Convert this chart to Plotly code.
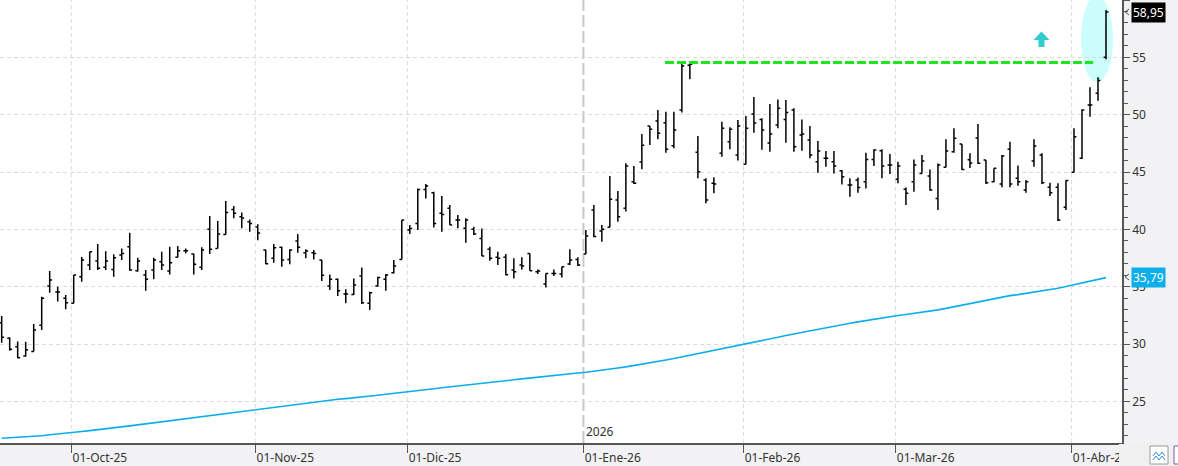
import pandas as pd
import plotly.graph_objects as go

# ---------------- data ----------------
holidays = ["2025-11-27", "2025-12-25", "2026-01-01", "2026-01-19", "2026-02-16", "2026-04-03"]
days = pd.bdate_range("2025-09-18", "2026-04-08")
days = days[~days.isin(pd.to_datetime(holidays))]
dates = [d.strftime("%Y-%m-%d") for d in days]

open_ = [31.86, 30.50, 29.77, 28.95, 29.35, 31.63, 35.06, 34.54, 34.00, 33.55,
         35.87, 36.89, 37.24, 36.69, 36.51, 37.76, 38.49, 36.40, 36.02, 36.45,
         37.18, 36.37, 37.56, 38.14, 37.85, 36.69, 40.00, 38.34, 39.56, 41.74,
         41.10, 40.67, 40.20, 38.20, 37.47, 38.43, 37.38, 38.98, 37.96, 37.96,
         37.32, 35.06, 35.64, 34.36, 34.33, 35.93, 33.55, 35.06, 35.64, 36.22,
         37.38, 39.94, 40.52, 43.48, 43.19, 41.40, 41.83, 40.81, 40.09, 40.00,
         39.21, 38.26, 37.56, 37.56, 36.45, 36.89, 37.90, 36.31, 35.23, 36.16,
         36.10, 36.98, 37.38, 37.85, 41.69, 39.86, 40.18, 42.56, 41.84, 44.16,
         45.87, 49.01, 49.45, 49.30, 47.30, 50.41, 54.30, 46.72, 44.31, 44.02,
         46.63, 47.65, 46.49, 45.67, 50.06, 49.59, 47.53, 49.10, 49.59, 50.40,
         48.23, 47.79, 45.90, 46.19, 45.90, 45.12, 43.86, 44.30, 44.16, 46.10,
         46.86, 45.61, 44.36, 43.49, 44.16, 44.88, 44.65, 42.70, 45.41, 46.77,
         47.44, 46.08, 47.97, 46.05, 44.16, 43.96, 46.98, 44.45, 43.43, 45.96,
         46.49, 43.67, 43.67, 41.92, 44.98, 46.20, 50.85, 51.86, 55.00]
high = [32.45, 30.59, 30.21, 30.20, 31.75, 34.13, 36.37, 35.00, 34.28, 36.02,
        37.60, 38.05, 38.72, 38.10, 37.82, 38.34, 39.71, 37.53, 36.46, 37.53,
        38.05, 38.49, 38.55, 38.34, 37.90, 38.43, 41.16, 40.73, 42.47, 42.03,
        41.48, 40.87, 40.45, 38.23, 38.72, 38.49, 38.26, 39.59, 38.26, 38.20,
        37.32, 36.07, 35.72, 34.77, 35.72, 36.68, 34.56, 35.87, 36.10, 37.32,
        40.81, 40.38, 43.57, 43.95, 43.28, 42.90, 42.12, 41.25, 40.96, 40.23,
        40.08, 38.49, 38.05, 37.85, 37.47, 37.56, 37.90, 36.51, 36.16, 36.51,
        36.74, 38.26, 37.56, 39.94, 42.13, 40.38, 44.65, 43.35, 45.76, 45.53,
        48.32, 49.01, 50.41, 50.26, 50.26, 54.45, 54.50, 48.14, 44.45, 44.54,
        49.39, 48.90, 49.54, 49.88, 51.54, 49.68, 50.93, 51.33, 51.28, 50.55,
        49.59, 49.01, 47.70, 46.83, 46.83, 45.17, 44.45, 44.53, 46.68, 46.98,
        46.98, 46.57, 45.90, 43.66, 46.10, 46.48, 45.23, 45.75, 47.85, 48.81,
        47.44, 46.63, 49.19, 46.05, 45.32, 46.49, 47.65, 45.56, 44.31, 47.85,
        46.63, 44.07, 44.02, 44.31, 48.81, 50.47, 52.39, 53.26, 59.13]
low = [30.12, 29.42, 28.76, 28.90, 29.34, 31.22, 34.48, 33.70, 33.03, 33.55,
       35.44, 36.45, 36.45, 36.45, 35.87, 37.33, 36.40, 36.30, 34.65, 35.64,
       36.45, 36.07, 37.56, 37.90, 36.07, 36.45, 37.85, 38.34, 39.56, 40.96,
       40.09, 39.80, 39.04, 36.96, 37.09, 36.74, 36.95, 37.96, 37.47, 37.38,
       35.49, 34.71, 34.18, 33.55, 34.27, 33.49, 32.96, 35.00, 34.65, 36.16,
       37.38, 39.59, 39.94, 42.70, 40.17, 39.80, 40.38, 40.09, 38.84, 39.50,
       37.67, 37.27, 36.89, 35.99, 35.72, 36.51, 36.39, 36.10, 34.94, 35.93,
       35.81, 36.89, 36.80, 37.85, 39.31, 38.93, 40.18, 40.67, 41.55, 43.96,
       45.24, 47.36, 47.85, 46.69, 47.07, 50.18, 53.08, 44.45, 42.27, 43.14,
       46.34, 46.98, 46.00, 45.67, 48.43, 46.95, 46.77, 48.81, 47.56, 46.77,
       46.86, 46.19, 44.94, 45.46, 44.88, 43.92, 42.85, 43.20, 43.57, 45.52,
       44.45, 44.82, 44.01, 42.12, 43.28, 44.88, 43.37, 41.69, 45.41, 46.68,
       45.17, 45.36, 45.70, 43.96, 44.10, 43.67, 43.67, 43.81, 43.20, 45.47,
       43.96, 42.91, 40.73, 41.69, 44.98, 46.14, 49.83, 51.22, 54.83]
close = [30.59, 29.54, 28.81, 29.50, 31.22, 33.99, 35.58, 34.54, 33.60, 36.02,
         37.32, 38.05, 36.60, 37.24, 37.53, 37.90, 36.45, 37.24, 35.64, 37.33,
         36.89, 37.09, 38.14, 38.14, 36.95, 38.20, 38.26, 39.59, 41.48, 41.40,
         41.00, 40.52, 39.68, 37.01, 38.40, 37.32, 38.20, 38.43, 38.11, 37.90,
         35.99, 35.64, 34.65, 34.36, 35.14, 33.60, 34.48, 35.81, 36.02, 36.80,
         40.81, 40.08, 43.48, 43.78, 40.52, 41.30, 40.38, 40.81, 40.81, 39.59,
         37.67, 37.47, 37.47, 36.04, 36.31, 36.80, 36.39, 36.37, 36.16, 36.16,
         36.74, 37.32, 36.89, 39.42, 39.37, 40.00, 42.62, 41.11, 45.53, 44.02,
         47.33, 48.72, 48.37, 46.98, 48.66, 54.25, 54.40, 45.03, 42.56, 43.96,
         48.81, 48.72, 49.01, 48.81, 49.28, 48.66, 48.31, 50.55, 50.20, 47.21,
         48.31, 46.48, 46.83, 46.19, 45.52, 44.59, 43.86, 43.66, 46.10, 46.92,
         45.52, 45.61, 45.52, 43.14, 45.61, 45.96, 43.43, 45.61, 46.83, 47.94,
         45.21, 45.78, 45.76, 44.07, 45.32, 46.40, 43.96, 44.16, 44.16, 47.27,
         44.07, 43.20, 40.82, 44.25, 48.08, 50.41, 50.85, 52.97, 58.95]
ma = [21.78, 21.82, 21.86, 21.90, 21.94, 22.00, 22.09, 22.15, 22.20, 22.27,
      22.37, 22.45, 22.52, 22.60, 22.69, 22.78, 22.86, 22.95, 23.04, 23.13,
      23.21, 23.30, 23.39, 23.48, 23.56, 23.66, 23.76, 23.86, 23.97, 24.07,
      24.16, 24.25, 24.34, 24.42, 24.52, 24.61, 24.70, 24.78, 24.87, 24.95,
      25.03, 25.11, 25.18, 25.24, 25.30, 25.37, 25.45, 25.54, 25.62, 25.69,
      25.78, 25.88, 25.95, 26.02, 26.10, 26.19, 26.26, 26.32, 26.40, 26.49,
      26.58, 26.65, 26.73, 26.80, 26.88, 26.96, 27.04, 27.12, 27.21, 27.29,
      27.37, 27.42, 27.48, 27.54, 27.62, 27.70, 27.80, 27.91, 28.01, 28.12,
      28.23, 28.35, 28.48, 28.61, 28.74, 28.88, 29.02, 29.17, 29.32, 29.47,
      29.60, 29.73, 29.85, 29.97, 30.12, 30.26, 30.42, 30.59, 30.75, 30.89,
      31.01, 31.15, 31.30, 31.45, 31.58, 31.70, 31.81, 31.93, 32.05, 32.17,
      32.28, 32.40, 32.49, 32.58, 32.67, 32.77, 32.88, 32.98, 33.11, 33.25,
      33.39, 33.54, 33.68, 33.82, 33.96, 34.10, 34.22, 34.31, 34.41, 34.51,
      34.62, 34.73, 34.87, 35.01, 35.16, 35.33, 35.51, 35.66, 35.79]

month_keys = ["2025-10", "2025-11", "2025-12", "2026-01", "2026-02", "2026-03", "2026-04"]
month_labels = ["01-Oct-25", "01-Nov-25", "01-Dic-25", "01-Ene-26", "01-Feb-26", "01-Mar-26", "01-Abr-26"]
y_ticks = [25, 30, 35, 40, 45, 50, 55, 60]
resistance = 54.56
year_label = "2026"

# ---------------- geometry helpers (pixels -> paper) ----------------
PW, PH = 1122.0, 443.0
def px(x):
    return x / PW
def py(y):
    return 1 - y / PH

first_idx = [next(i for i, d in enumerate(dates) if d.startswith(k)) for k in month_keys]
tick_pos = [i - 0.3 for i in first_idx]

fig = go.Figure()
fig.add_trace(go.Ohlc(
    x=dates, open=open_, high=high, low=low, close=close,
    increasing=dict(line=dict(color="black", width=1.5)),
    decreasing=dict(line=dict(color="black", width=1.5)),
    tickwidth=0.3, showlegend=False, hoverinfo="skip"))
fig.add_trace(go.Scatter(
    x=dates, y=ma, mode="lines", line=dict(color="#0aaeea", width=1.6),
    showlegend=False, hoverinfo="skip"))

shapes = []
# month grid lines and the year divider
for k, p in zip(month_keys, tick_pos):
    if k.endswith("-01"):
        shapes.append(dict(type="line", xref="x", yref="paper", x0=p, x1=p, y0=0, y1=1,
                           line=dict(color="#c8c8c8", width=2, dash="12px,4px"), layer="below"))
    else:
        shapes.append(dict(type="line", xref="x", yref="paper", x0=p, x1=p, y0=0, y1=1,
                           line=dict(color="#dcdcdc", width=1, dash="4px,3px"), layer="below"))
# highlight ellipse
shapes.append(dict(type="circle", xref="paper", yref="paper",
                   x0=px(1081), x1=px(1113), y0=py(82), y1=py(-4),
                   fillcolor="#ccfdfd", line=dict(width=0), layer="below"))
# resistance line
shapes.append(dict(type="line", xref="x", yref="y", x0=82.9, x1=136.4,
                   y0=resistance, y1=resistance,
                   line=dict(color="#1ee61e", width=3, dash="9px,3px")))
# up arrow
arrow = [(1033.5, 40), (1041.5, 31.5), (1049.5, 40), (1044.5, 40), (1044.5, 47), (1038.5, 47), (1038.5, 40)]
path = "M " + " L ".join(f"{px(a):.5f},{py(b):.5f}" for a, b in arrow) + " Z"
shapes.append(dict(type="path", xref="paper", yref="paper", path=path,
                   fillcolor="#33cccc", line=dict(width=0)))
# corner box covering clipped label + icons
shapes.append(dict(type="rect", xref="paper", yref="paper", x0=px(1119), x1=px(1180),
                   y0=py(466), y1=py(444), fillcolor="#f0f0f0", line=dict(width=0), layer="above"))
shapes.append(dict(type="rect", xref="paper", yref="paper", x0=px(1150), x1=px(1168),
                   y0=py(464), y1=py(446), fillcolor="white", line=dict(color="#9a9a9a", width=1), layer="above"))
zz = [(1153, 456), (1156, 452), (1159, 456), (1162, 452), (1165, 456)]
zz2 = [(1153, 460), (1156, 456), (1159, 460), (1162, 456), (1165, 460)]
for z in (zz, zz2):
    shapes.append(dict(type="path", xref="paper", yref="paper",
                       path="M " + " L ".join(f"{px(a):.5f},{py(b):.5f}" for a, b in z),
                       line=dict(color="#3a8ad8", width=1), layer="above"))
shapes.append(dict(type="rect", xref="paper", yref="paper", x0=px(1174), x1=px(1182),
                   y0=py(464), y1=py(446), fillcolor="white", line=dict(color="#7a5aa8", width=1), layer="above"))
# small pointers next to price tags
for yy in (12, 277):
    shapes.append(dict(type="path", xref="paper", yref="paper",
                       path=f"M {px(1129):.5f},{py(yy-3):.5f} L {px(1125):.5f},{py(yy):.5f} L {px(1129):.5f},{py(yy+3):.5f}",
                       line=dict(color="#555555", width=1), layer="above"))

def fmt(v):
    return f"{v:.2f}".replace(".", ",")

annotations = [
    dict(x=tick_pos[3], xref="x", y=0, yref="paper", text=year_label, showarrow=False,
         xanchor="left", yanchor="bottom", xshift=1, yshift=1,
         font=dict(family="Noto Sans", size=12, color="#333333")),
    dict(x=px(1131), xref="paper", y=close[-1], yref="y", text=fmt(close[-1]), showarrow=False,
         xanchor="left", yanchor="middle", bgcolor="black", borderpad=1,
         font=dict(family="Noto Sans", size=12, color="white")),
    dict(x=px(1131), xref="paper", y=ma[-1], yref="y", text=fmt(ma[-1]), showarrow=False,
         xanchor="left", yanchor="middle", bgcolor="#0aaeea", borderpad=1,
         font=dict(family="Noto Sans", size=12, color="white")),
]

fig.update_layout(
    width=1178, height=466,
    margin=dict(l=0, r=56, t=0, b=23),
    paper_bgcolor="#f2f2f4", plot_bgcolor="white",
    shapes=shapes, annotations=annotations,
    xaxis=dict(type="category", range=[-0.21, 140.0], rangeslider=dict(visible=False),
               tickmode="array", tickvals=tick_pos, ticktext=month_labels,
               ticks="outside", ticklen=8, tickcolor="#555555", tickwidth=1,
               ticklabelposition="outside right", ticklabelstandoff=3,
               showline=True, linecolor="#555555", linewidth=1.5,
               showgrid=False, zeroline=False,
               tickfont=dict(family="Noto Sans", size=12, color="#333333")),
    yaxis=dict(side="right", range=[21.37, 60.0], tickmode="array", tickvals=y_ticks,
               ticks="outside", ticklen=6, tickcolor="#555555",
               showline=True, linecolor="#555555", linewidth=1.5,
               showgrid=True, gridcolor="#dcdcdc", griddash="4px,3px", zeroline=False,
               minor=dict(dtick=1, ticks="outside", ticklen=4, tickcolor="#555555", showgrid=False),
               tickfont=dict(family="Noto Sans", size=12, color="#333333")),
)

fig.write_html("out.html")
